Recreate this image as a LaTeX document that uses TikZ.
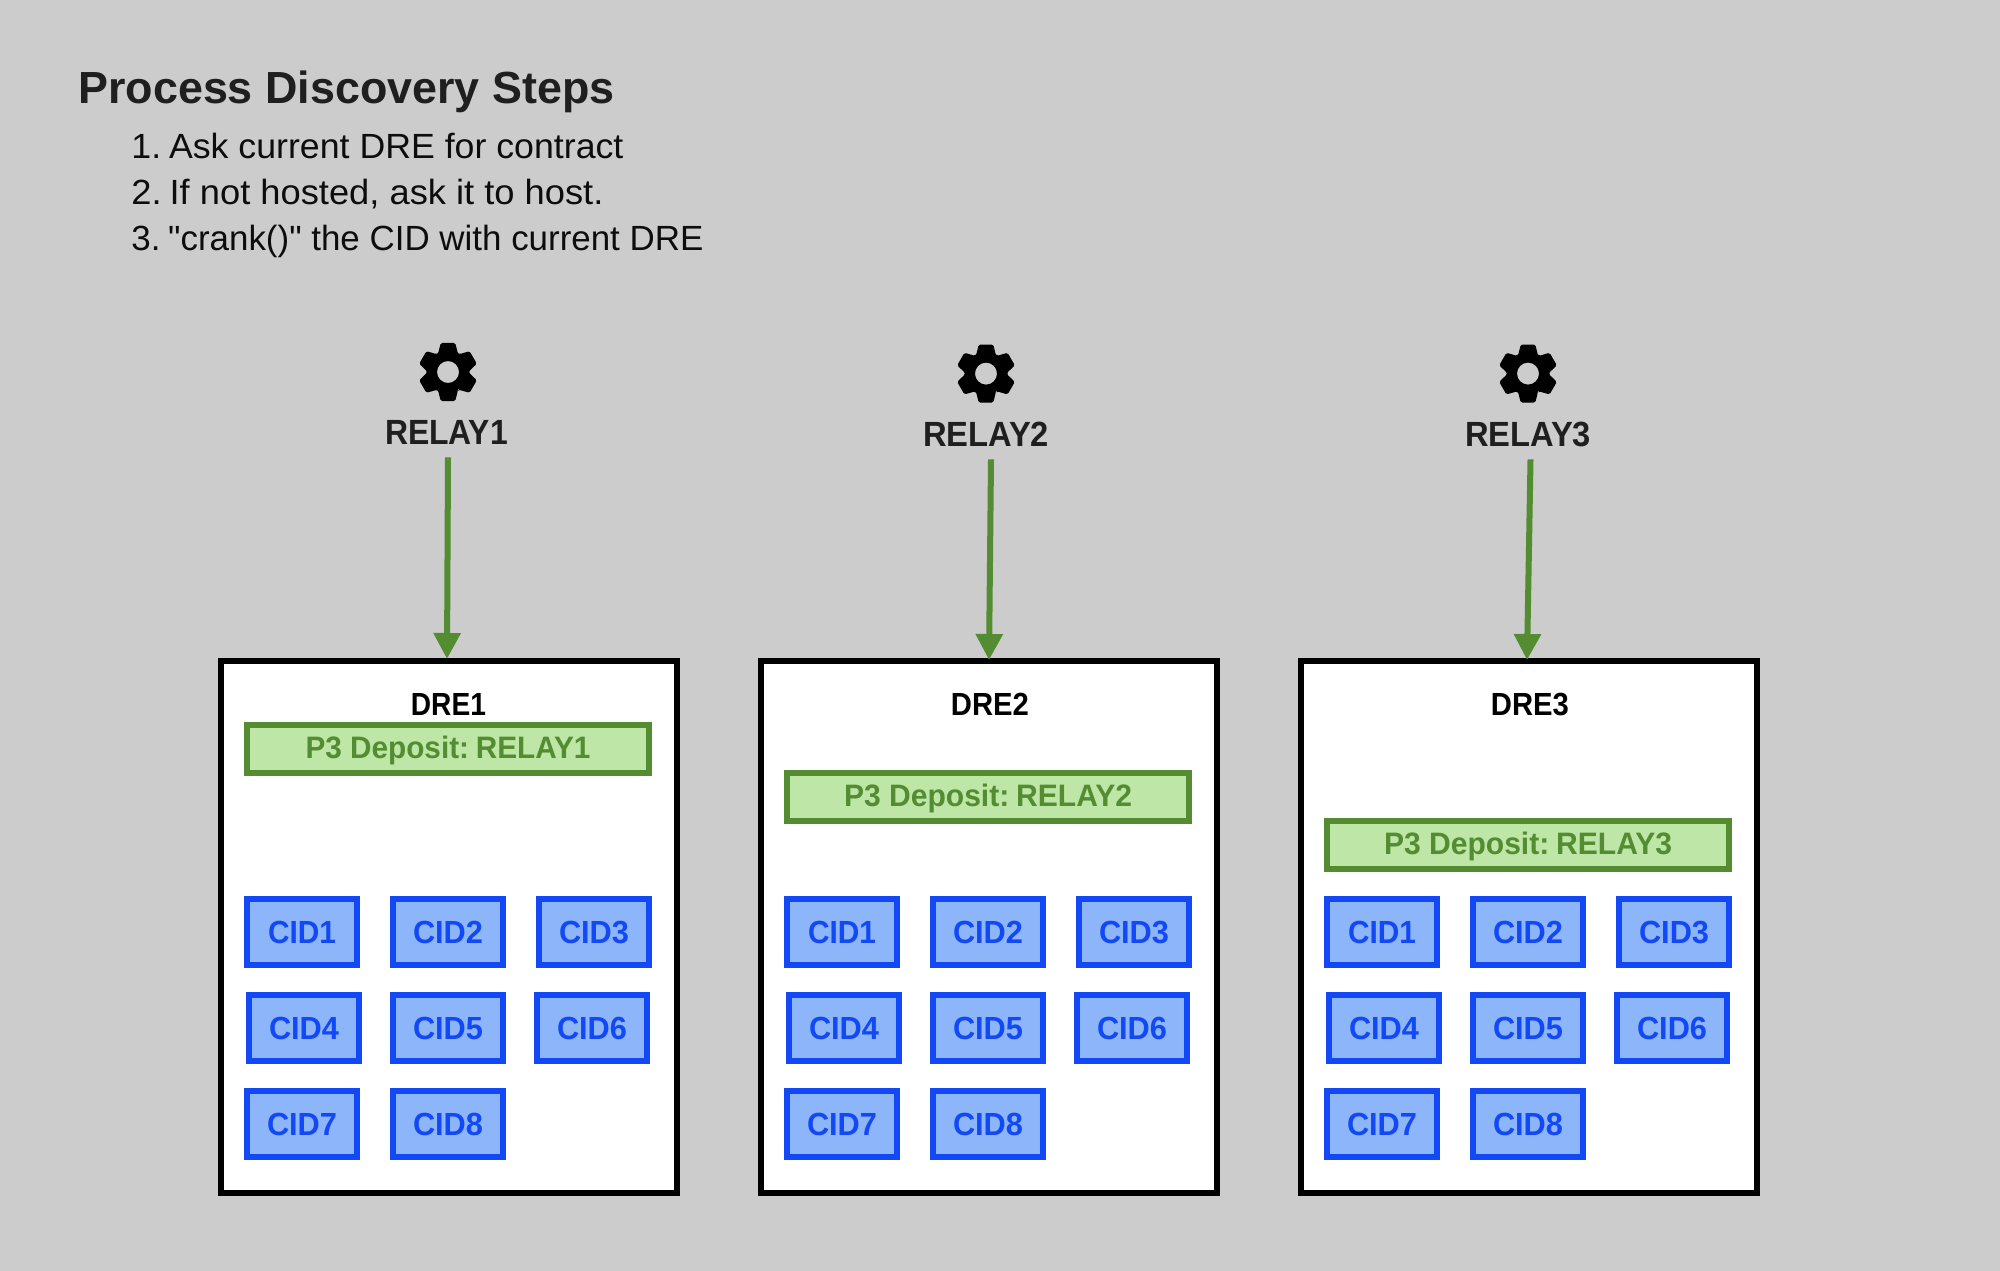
\documentclass[tikz,border=0pt]{standalone}
\usepackage{fontspec}
\setmainfont{Liberation Sans}[Ligatures=TeXOff]
\usetikzlibrary{arrows.meta}
\newdimen\pxu \pxu=0.5pt
\newcommand{\wtext}[2]{\resizebox{#1\pxu}{\height}{#2}}
\newcommand{\fpx}[1]{\fontsize{#1\pxu}{1.2\dimexpr#1\pxu\relax}\selectfont}
\definecolor{bgc}{RGB}{204,204,204}
\definecolor{ink}{RGB}{31,31,31}
\definecolor{gline}{RGB}{84,140,50}
\definecolor{gfill}{RGB}{190,230,166}
\definecolor{bline}{RGB}{18,72,245}
\definecolor{bfill}{RGB}{140,181,250}
\tikzset{
  x=0.5pt,y=-0.5pt,
  base/.style={inner sep=0pt,anchor=base},
  titletext/.style={base,anchor=base west,text=ink,font=\bfseries\fpx{45}},
  listtext/.style={base,anchor=base west,text=black!95,font=\fpx{35}},
  relaytext/.style={base,text=ink,text depth=6pt,font=\bfseries\fpx{35}},
  drebox/.style={draw=black,fill=white,line width=3pt,minimum width=228pt,minimum height=266pt,inner sep=0pt},
  dretext/.style={base,anchor=base west,text=black,font=\bfseries\fpx{32}},
  depositbox/.style={draw=gline,fill=gfill,line width=3pt,minimum width=201pt,minimum height=24pt,inner sep=0pt,text=gline,text height=9.3pt,text depth=0pt,font=\bfseries\fpx{31}},
  cidbox/.style={draw=bline,fill=bfill,line width=3pt,minimum width=55pt,minimum height=33pt,inner sep=0pt,text=bline,text height=11.5pt,text depth=0pt,font=\bfseries\fpx{32}},
  flow/.style={draw=gline,line width=3pt,-{Triangle[length=13pt,width=13pt,fill=gline]}},
  gearshape/.style={fill=black,even odd rule,rounded corners=0.8pt}
}
\begin{document}
\begin{tikzpicture}
\useasboundingbox (0,0) rectangle (2000,1270);
\fill[bgc] (-6,-6) rectangle (2006,1276);
\node[titletext] (title) at (78,103) {\wtext{536}{Process Discovery Steps}};
\node[listtext] (step1) at (131,158) {\wtext{492}{1.\kern-1pt\ Ask current DRE for contract}};
\node[listtext] (step2) at (131,204) {\wtext{472}{2.\kern-1pt\ If not hosted, ask it to host.}};
\node[listtext] (step3) at (131,250) {\wtext{572}{3.\kern-1pt\ "crank()" the CID with current DRE}};
\foreach \n/\vox/\vgy/\vrx/\vry/\vsh/\vth/\vts/\vwr/\vwd/\vwp/\vcx/\vcy in {
  1/218/749/446.5/444/1.5/-2/0/123/75/285/448/372,
  2/758/797/986/446/5/0/1/126/78/288/986/373.6,
  3/1298/845/1528/446/2.5/-2/1/126/78/288/1528/373.6}{
  \node[drebox,anchor=north west] (dre\n) at (\vox,658) {};
  \node[dretext] (drelabel\n) at (\vox+192.5,715) {\wtext{\vwd}{DRE\n}};
  \node[depositbox] (dep\n) at (\vox+230,\vgy) {\wtext{\vwp}{P3 Deposit:\kern-0.8pt\ RELAY\n}};
  \node[cidbox] (cidA\n) at (\vox+84,932) {\wtext{68}{CID1}};
  \node[cidbox] (cidB\n) at (\vox+230,932) {\wtext{70}{CID2}};
  \node[cidbox] (cidC\n) at (\vox+376,932) {\wtext{70}{CID3}};
  \node[cidbox] (cidD\n) at (\vox+86,1028) {\wtext{70}{CID4}};
  \node[cidbox] (cidE\n) at (\vox+230,1028) {\wtext{70}{CID5}};
  \node[cidbox] (cidF\n) at (\vox+374,1028) {\wtext{70}{CID6}};
  \node[cidbox] (cidG\n) at (\vox+84,1124) {\wtext{70}{CID7}};
  \node[cidbox] (cidH\n) at (\vox+230,1124) {\wtext{70}{CID8}};
  \node[relaytext] (relay\n) at (\vrx,\vry) {\wtext{\vwr}{RELAY\n}};
  \begin{scope}[shift={(\vcx,\vcy)}]
    \fill[gearshape] (62:21) \foreach \a in {90,150,210,270,330,390}{
      -- (\a-28:21) -- (\a-14:30) -- (\a+14:30) -- (\a+28:21)} -- cycle
      (0,0) circle[radius=11];
  \end{scope}
  \draw[flow] ([xshift=\vsh\pxu,yshift=-1\pxu]relay\n.south) -- ([xshift=\vth\pxu,yshift=-\vts\pxu-1\pxu]dre\n.north);
}
\end{tikzpicture}
\end{document}
